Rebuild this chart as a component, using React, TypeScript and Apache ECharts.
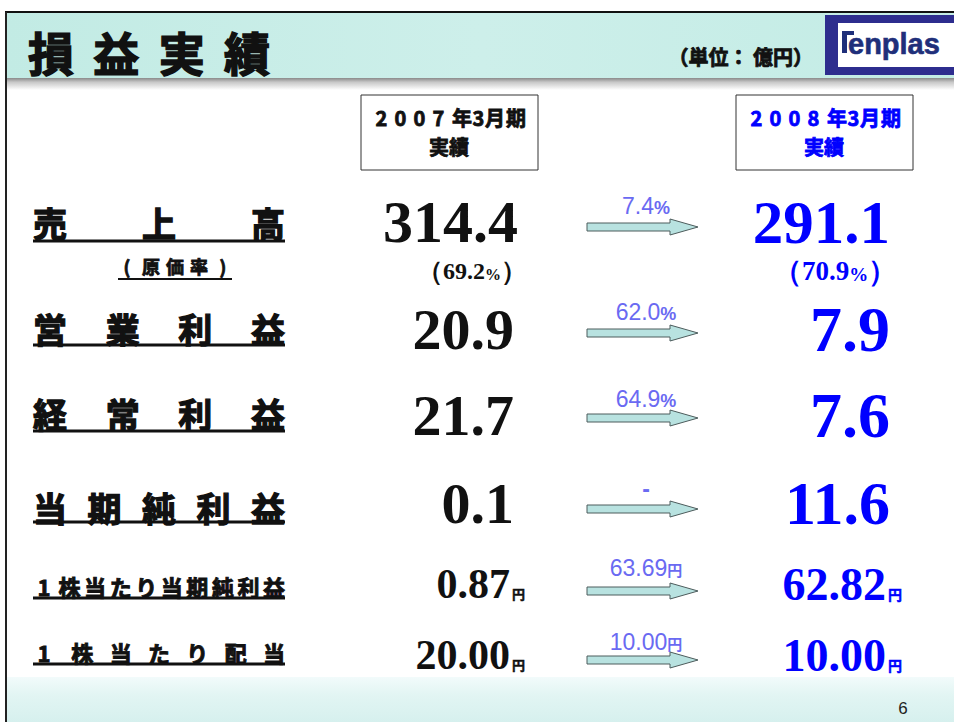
import React, { useEffect, useRef } from "react";
import * as echarts from "echarts";

// ---- data ----
const slideTitle = "損益実績";
const unitNote = "（単位： 億円）";
const periods = ["2007年3月期", "2008年3月期"];
const periodSub = "実績";
const rowLabels = ["売上高", "営業利益", "経常利益", "当期純利益", "1株当たり当期純利益", "1株当たり配当"];
const subLabel = "(原価率)";
const fy2007 = ["314.4", "20.9", "21.7", "0.1", "0.87", "20.00"];
const fy2008 = ["291.1", "7.9", "7.6", "11.6", "62.82", "10.00"];
const valueUnits = ["", "", "", "", "円", "円"];
const costRatio = ["69.2", "70.9"];
const changeValues = ["7.4", "62.0", "64.9", "-", "63.69", "10.00"];
const changeUnits = ["%", "%", "%", "", "円", "円"];
const pageNo = "6";

// ---- layout ----
const labelY = [222, 328, 413, 507, 586, 652];
const underlineY = [241, 345, 431, 522, 598, 664];
const labelFont = [34, 34, 34, 34, 22, 22];
const valueY = [222, 329, 415, 503, 584, 655];
const font07 = [60, 58, 58, 58, 42, 42];
const font08 = [61, 64, 64, 62, 46, 46];
const arrowY = [227, 333, 418, 509, 591, 660];
const changeY = [206, 312, 399, 489, 568, 642];

const CJK = '"Noto Sans CJK JP", sans-serif';
const SERIF = '"Liberation Serif", "Times New Roman", serif';
const SANS = '"Liberation Sans", Arial, sans-serif';
const BLUE = "#0000ff";
const LBLUE = "#6a6af2";

function heavy(color: string, w = 1) {
  return { stroke: color, lineWidth: w };
}

function spread(text: string, x0: number, x1: number, yc: number, fs: number, color: string, sw = 1.2) {
  const chars = Array.from(text);
  const n = chars.length;
  const w = fs;
  const step = n > 1 ? (x1 - x0 - w) / (n - 1) : 0;
  return chars.map((c, i) => ({
    type: "text",
    x: x0 + w / 2 + i * step,
    y: yc,
    style: {
      text: c,
      fill: color,
      ...heavy(color, sw),
      font: `bold ${fs}px ${CJK}`,
      textAlign: "center",
      textVerticalAlign: "middle",
    },
  }));
}

function buildGraphic() {
  const els: any[] = [];
  // header band
  els.push({
    type: "rect",
    shape: { x: 7, y: 13, width: 947, height: 65 },
    style: {
      fill: new echarts.graphic.LinearGradient(0, 0, 1, 0, [
        { offset: 0, color: "#c2ebe4" },
        { offset: 0.5, color: "#cdefea" },
        { offset: 1, color: "#c3ece5" },
      ]),
    },
  });
  // header shadow
  els.push({
    type: "rect",
    shape: { x: 7, y: 78, width: 947, height: 12 },
    style: {
      fill: new echarts.graphic.LinearGradient(0, 0, 0, 1, [
        { offset: 0, color: "#8a8a8a" },
        { offset: 0.35, color: "#c8c8c8" },
        { offset: 1, color: "#ffffff" },
      ]),
    },
  });
  // bottom band
  els.push({
    type: "rect",
    shape: { x: 7, y: 677, width: 947, height: 45 },
    style: {
      fill: new echarts.graphic.LinearGradient(0, 0, 0, 1, [
        { offset: 0, color: "#f2fbfb" },
        { offset: 0.4, color: "#e2f5f3" },
        { offset: 1, color: "#d6f0ee" },
      ]),
    },
  });
  // borders
  els.push({ type: "line", shape: { x1: 5, y1: 12, x2: 954, y2: 12 }, style: { stroke: "#111", lineWidth: 2 } });
  els.push({ type: "line", shape: { x1: 6, y1: 12, x2: 6, y2: 722 }, style: { stroke: "#222", lineWidth: 2 } });

  // title
  els.push(...spread(slideTitle, 28, 270, 51, 46, "#111", 1.5));
  // unit note
  els.push({
    type: "text",
    x: 813,
    y: 56,
    style: { text: unitNote, fill: "#111", ...heavy("#111", 0.8), font: `bold 20px ${CJK}`, textAlign: "right", textVerticalAlign: "middle" },
  });
  // logo
  els.push({ type: "rect", shape: { x: 825, y: 15, width: 129, height: 60 }, style: { fill: "#2d2d8e" } });
  els.push({ type: "rect", shape: { x: 838, y: 23, width: 116, height: 44 }, style: { fill: "#ffffff" } });
  els.push({ type: "rect", shape: { x: 842, y: 31, width: 5, height: 22 }, style: { fill: "#1f2f7a" } });
  els.push({ type: "rect", shape: { x: 842, y: 31, width: 12, height: 4 }, style: { fill: "#1f2f7a" } });
  els.push({
    type: "text",
    x: 848,
    y: 44,
    style: { text: "enplas", fill: "#1f2f7a", ...heavy("#1f2f7a", 0.6), font: `bold 29px ${SANS}`, textAlign: "left", textVerticalAlign: "middle" },
  });

  // period boxes
  const boxX = [361, 736];
  const boxColor = ["#111", BLUE];
  periods.forEach((p, k) => {
    const bx = boxX[k];
    els.push({
      type: "rect",
      shape: { x: bx, y: 95, width: 177, height: 75 },
      style: { fill: "#fff", stroke: "#333", lineWidth: 1 },
    });
    const chars = Array.from(p);
    const widths = chars.map((c) => (/[0-9]/.test(c) ? 11 : 20));
    const gaps = chars.map((c, i) => (i < 4 ? 8 : 1));
    let x = bx + 15;
    chars.forEach((c, i) => {
      els.push({
        type: "text",
        x: x + widths[i] / 2,
        y: 117,
        style: { text: c, fill: boxColor[k], ...heavy(boxColor[k], 0.8), font: `bold 20px ${CJK}`, textAlign: "center", textVerticalAlign: "middle" },
      });
      x += widths[i] + gaps[i];
    });
    els.push({
      type: "text",
      x: bx + 88,
      y: 146,
      style: { text: periodSub, fill: boxColor[k], ...heavy(boxColor[k], 0.8), font: `bold 20px ${CJK}`, textAlign: "center", textVerticalAlign: "middle" },
    });
  });

  // rows
  rowLabels.forEach((lab, i) => {
    els.push(...spread(lab, 33, 285, labelY[i], labelFont[i], "#111", labelFont[i] > 30 ? 1.3 : 0.9));
    els.push({ type: "line", shape: { x1: 33, y1: underlineY[i], x2: 285, y2: underlineY[i] }, style: { stroke: "#111", lineWidth: 3 } });

    const hasUnit = valueUnits[i] !== "";
    // FY2007
    els.push({
      type: "text",
      x: hasUnit ? 510 : i === 0 ? 518 : 514,
      y: valueY[i],
      style: {
        text: fy2007[i],
        fill: "#111",
        font: `bold ${font07[i]}px ${SERIF}`,
        lineHeight: Math.round(font07[i] * 0.75),
        textAlign: "right",
        textVerticalAlign: "middle",
      },
    });
    if (hasUnit) {
      els.push({
        type: "text",
        x: 512,
        y: valueY[i] + 9,
        style: { text: valueUnits[i], fill: "#111", ...heavy("#111", 0.5), font: `bold 13px ${CJK}`, textAlign: "left", textVerticalAlign: "middle" },
      });
    }
    // FY2008
    els.push({
      type: "text",
      x: hasUnit ? 886 : 890,
      y: valueY[i],
      style: {
        text: fy2008[i],
        fill: BLUE,
        font: `bold ${font08[i]}px ${SERIF}`,
        lineHeight: Math.round(font08[i] * 0.75),
        textAlign: "right",
        textVerticalAlign: "middle",
      },
    });
    if (hasUnit) {
      els.push({
        type: "text",
        x: 888,
        y: valueY[i] + 10,
        style: { text: valueUnits[i], fill: BLUE, ...heavy(BLUE, 0.5), font: `bold 14px ${CJK}`, textAlign: "left", textVerticalAlign: "middle" },
      });
    }

    // arrow
    const ax0 = 587, ax1 = 670, ax2 = 698, ay = arrowY[i];
    els.push({
      type: "polygon",
      shape: {
        points: [
          [ax0, ay - 4],
          [ax1, ay - 4],
          [ax1, ay - 8],
          [ax2, ay],
          [ax1, ay + 8],
          [ax1, ay + 4],
          [ax0, ay + 4],
        ],
      },
      style: { fill: "#b8e2e0", stroke: "#4d5c5c", lineWidth: 1 },
    });
    // change label
    const isYen = changeUnits[i] === "円";
    const uFs = isYen ? 15 : 18;
    els.push({
      type: "text",
      x: 646,
      y: changeY[i],
      style: {
        text: changeUnits[i] ? `{n|${changeValues[i]}}{u|${changeUnits[i]}}` : `{n|${changeValues[i]}}`,
        textAlign: "center",
        textVerticalAlign: "middle",
        fill: LBLUE,
        rich: {
          n: { font: `${changeValues[i] === "-" ? "bold " : ""}23px ${SANS}`, fill: LBLUE, verticalAlign: "bottom" },
          u: {
            font: `bold ${uFs}px ${isYen ? CJK : SANS}`,
            fill: LBLUE,
            verticalAlign: "bottom",
            padding: [0, 0, isYen ? 3 : 1, 0],
          },
        },
      },
    });
  });

  // sub label (cost ratio)
  els.push(...spread(subLabel, 118, 232, 266, 18, "#111", 0.8));
  els.push({ type: "line", shape: { x1: 118, y1: 279, x2: 232, y2: 279 }, style: { stroke: "#111", lineWidth: 2 } });
  const crX = [472, 835];
  const crColor = ["#111", BLUE];
  const crFs = [24, 27];
  costRatio.forEach((v, k) => {
    els.push({
      type: "text",
      x: crX[k],
      y: 272,
      style: {
        text: `{p|（}{n|${v}}{s|%}{p|）}`,
        textAlign: "center",
        textVerticalAlign: "middle",
        fill: crColor[k],
        rich: {
          p: { font: `bold ${crFs[k] + 2}px ${SERIF}`, fill: crColor[k], verticalAlign: "bottom", lineHeight: crFs[k] },
          n: { font: `bold ${crFs[k]}px ${SERIF}`, fill: crColor[k], verticalAlign: "bottom", lineHeight: crFs[k], padding: [0, 0, 1, 0] },
          s: { font: `bold ${crFs[k] - 8}px ${SERIF}`, fill: crColor[k], verticalAlign: "bottom", padding: [0, 0, 2, 0] },
        },
      },
    });
  });

  // page number
  els.push({
    type: "text",
    x: 903,
    y: 708,
    style: { text: pageNo, fill: "#222", font: `17px ${SANS}`, textAlign: "center", textVerticalAlign: "middle" },
  });
  return els;
}

export default function App() {
  const ref = useRef<HTMLDivElement>(null);
  useEffect(() => {
    if (!ref.current) return;
    const chart = echarts.init(ref.current, undefined, { renderer: "svg" });
    chart.setOption({
      animation: false,
      backgroundColor: "#ffffff",
      graphic: { elements: buildGraphic() },
    });
    return () => chart.dispose();
  }, []);
  return (
    <div
      ref={ref}
      style={{ position: "absolute", left: 0, top: 0, width: 954, height: 722 }}
    />
  );
}
